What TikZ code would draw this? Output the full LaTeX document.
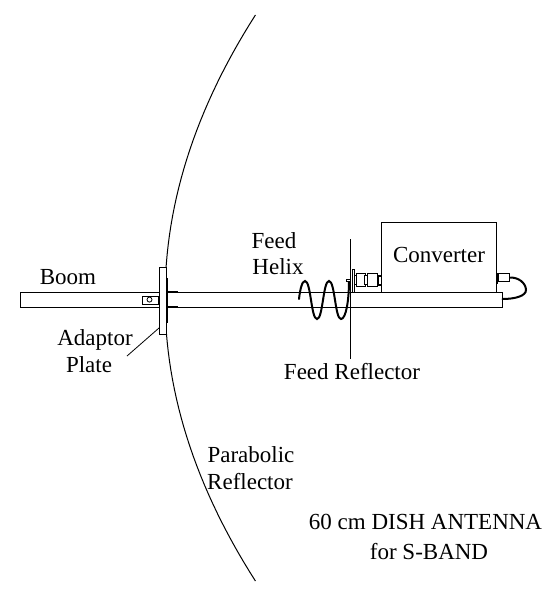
\documentclass[tikz,border=0pt]{standalone}
\usepackage{fontspec}
\setmainfont{Liberation Serif}
\tikzset{
  part/.style={draw=black,line width=1.4pt,fill=white},
  thin line/.style={draw=black,line width=1pt},
  heavy/.style={draw=black,line width=2.8pt},
  cable/.style={draw=black,line width=2pt,line cap=round},
  lbl/.style={font=\fontsize{23}{26}\selectfont,anchor=base,inner sep=0pt,text=black}
}
\begin{document}
\begin{tikzpicture}[x=1pt,y=-1pt]
\useasboundingbox (0,0) rectangle (556,595);
% parabolic reflector
\draw[thin line] plot[domain=15:581,samples=60] ({165+0.001124*(\x-298)*(\x-298)},\x);
% boom
\node[part,minimum width=139pt,minimum height=15pt,inner sep=0pt,anchor=north west] (boomL) at (20,292) {};
\node[part,minimum width=335pt,minimum height=15pt,inner sep=0pt,anchor=north west] (boomR) at (167,292) {};
% clamp on the boom
\node[part,minimum width=16pt,minimum height=7.5pt,inner sep=0pt,anchor=north west] (clamp) at (142,296) {};
\node[draw,circle,line width=0.8pt,minimum size=5pt,inner sep=0pt] (bolt) at (149.5,299.6) {};
% adaptor plate
\node[part,minimum width=7pt,minimum height=67pt,inner sep=0pt,anchor=north west] (plate) at (159,267) {};
\draw[heavy] (167,278) -- (167,292) -- (178,292);
\draw[heavy] (167,323) -- (167,307) -- (178,307);
% converter
\node[part,minimum width=115pt,minimum height=70pt,inner sep=0pt,anchor=north west] (conv) at (381,222) {};
% feed reflector
\draw[thin line] (350,239) -- (350,359);
\node[part,line width=1pt,minimum width=2pt,minimum height=23pt,inner sep=0pt,anchor=north west] (flange) at (351.5,269) {};
% front connector
\node[part,line width=1pt,minimum width=2pt,minimum height=9pt,inner sep=0pt,anchor=north west] (linkA) at (353.5,275) {};
\node[part,minimum width=9pt,minimum height=13pt,inner sep=0pt,anchor=north west] (barrelA) at (355.5,273) {};
\node[part,line width=1pt,minimum width=3pt,minimum height=9pt,inner sep=0pt,anchor=north west] (linkB) at (364,275) {};
\node[part,minimum width=10pt,minimum height=13pt,inner sep=0pt,anchor=north west] (barrelB) at (367,273) {};
\node[draw,fill=white,line width=1.6pt,minimum width=3pt,minimum height=9pt,inner sep=0pt,anchor=north west] (neck) at (377.5,275) {};
% helix
\draw[cable] (299,299) .. controls (300,290) and (302,281) .. (305,281)
  .. controls (311,281) and (311,319) .. (317,319)
  .. controls (323,319) and (323,281) .. (329,281)
  .. controls (335,281) and (335,319) .. (341,319)
  .. controls (346,319) and (349,300) .. (349,281);
\draw[part,line width=1pt] (346.5,279) rectangle (350,281.5);
% rear connector and cable
\draw[heavy] (497,273) -- (497,284);
\node[part,minimum width=11pt,minimum height=8pt,inner sep=0pt,anchor=north west] (term) at (498,273) {};
\draw[cable] (term.east) .. controls (518,277) and (526,283) .. (526,290)
  .. controls (526,296) and (515,299) .. (502.5,299);
% leader
\coordinate (leadEnd) at (127,356);
\draw[draw=black,line width=0.8pt] (plate.south west |- 0,328) -- (leadEnd);
% labels
\node[lbl] (tBoom) at (68,284) {Boom};
\node[lbl] (tAd) at (95,345) {Adaptor};
\node[lbl] (tPl) at (89,372) {Plate};
\node[lbl] (tFeed) at (274,248) {Feed};
\node[lbl] (tHelix) at (278,274) {Helix};
\node[lbl] (tConv) at (439,262) {Converter};
\node[lbl] (tFR) at (352,379) {Feed Reflector};
\node[lbl] (tPa) at (251,462) {Parabolic};
\node[lbl] (tRe) at (250,489) {Reflector};
\node[lbl] (tDish) at (425.5,529) {60 cm DISH ANTENNA};
\node[lbl] (tFor) at (429,559) {for S-BAND};
\end{tikzpicture}
\end{document}
